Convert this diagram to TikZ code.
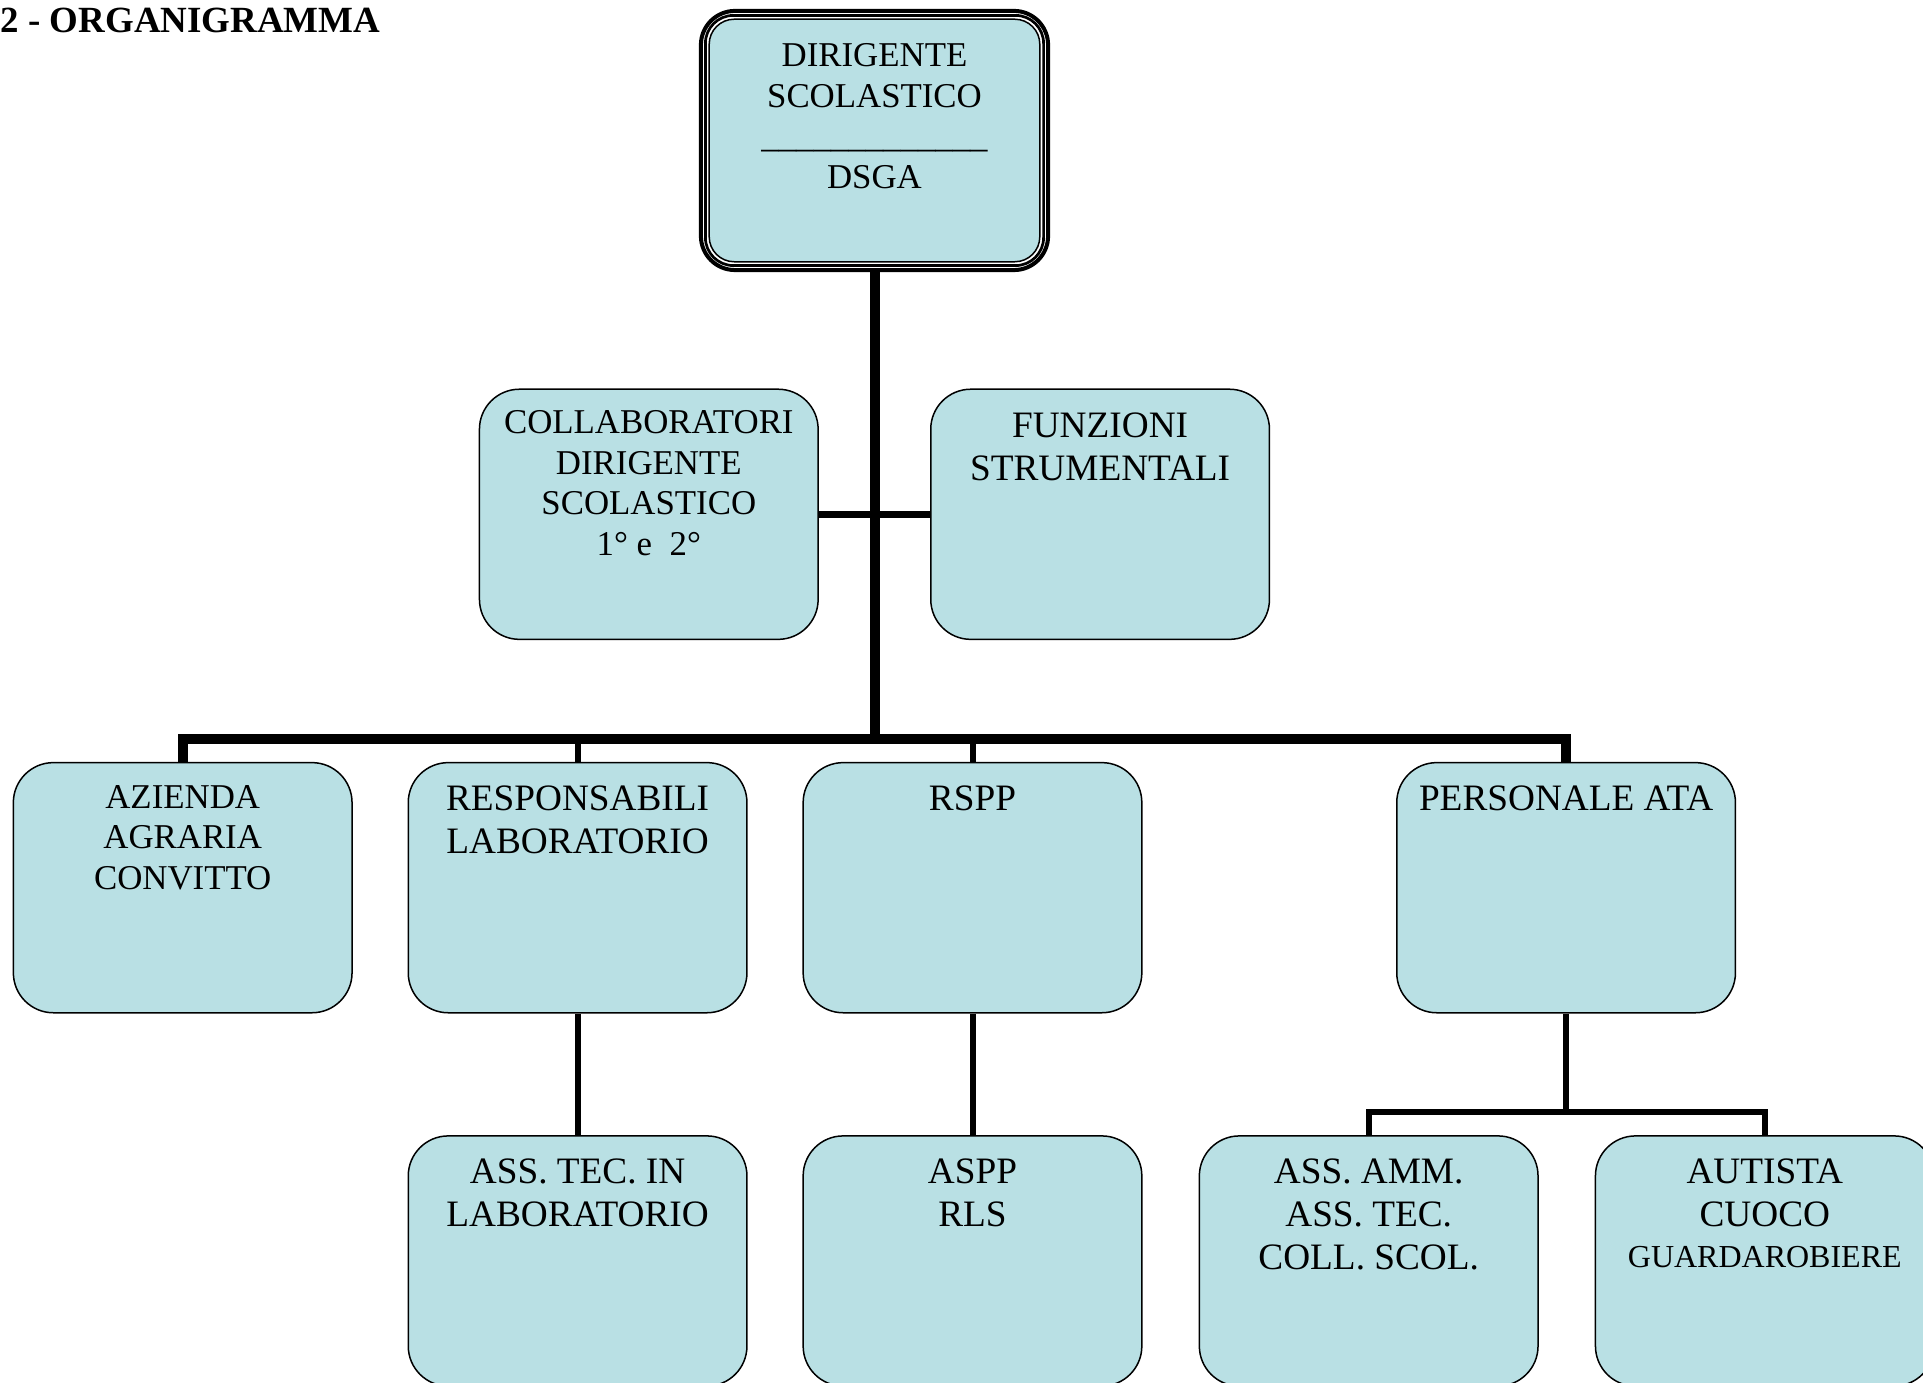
\documentclass[tikz,border=0pt]{standalone}
\usepackage{fontspec}
\setmainfont{Liberation Serif}
\usetikzlibrary{positioning}
\definecolor{boxblue}{RGB}{185,224,228}
\newcommand{\bigtxt}{\fontsize{10.6}{12.2}\selectfont}
\newcommand{\smalltxt}{\fontsize{9.9}{11.5}\selectfont}
\newcommand{\tinytxt}{\fontsize{9.1}{11.5}\selectfont}

\begin{document}
\begin{tikzpicture}[x=0.01cm,y=-0.01cm,
  unit/.style={rectangle,rounded corners=0.4cm,draw=black,line width=0.015cm,
    fill=boxblue,minimum width=3.385cm,minimum height=2.5cm,inner sep=0pt},
  bigtext/.style={align=center,inner sep=0pt,font=\bigtxt},
  smalltext/.style={align=center,inner sep=0pt,font=\smalltxt},
  trunk/.style={line width=0.1cm},
  branch/.style={line width=0.06cm},
  link/.style={line width=0.065cm}]
\clip (0,0) rectangle (1923,1383);
% title
\node[anchor=base west,inner sep=0pt,font=\fontsize{10.5}{12}\selectfont\bfseries] (title) at (0,33) {2 - ORGANIGRAMMA};
% top box, three borders
\node[rectangle,rounded corners=0.34cm,draw=black,line width=0.04cm,fill=white,
  minimum width=3.47cm,minimum height=2.59cm,inner sep=0pt] (ds) at (874.5,140.5) {};
\draw[rounded corners=0.28cm,line width=0.027cm] ([shift={(6.5,6.5)}]ds.north west) rectangle ([shift={(-6.5,-6.5)}]ds.south east);
\filldraw[fill=boxblue,rounded corners=0.25cm,line width=0.015cm] ([shift={(10.3,10.3)}]ds.north west) rectangle ([shift={(-10.3,-10.3)}]ds.south east);
\node[smalltext,below=0.34cm of ds.north] (ds-t) {DIRIGENTE\\SCOLASTICO\\\_\_\_\_\_\_\_\_\_\_\_\_\_\\DSGA};
% boxes
\node[unit] (coll) at (648.8,514.3) {};
\node[unit] (funz) at (1100.1,514.3) {};
\node[unit] (az) at (182.7,887.7) {};
\node[unit] (resp) at (577.6,887.7) {};
\node[unit] (rspp) at (972.5,887.7) {};
\node[unit] (pers) at (1566.1,887.7) {};
\node[unit] (asstec) at (577.6,1261) {};
\node[unit] (aspp) at (972.5,1261) {};
\node[unit] (assamm) at (1368.7,1261) {};
\node[unit] (autista) at (1764.8,1261) {};
% texts
\node[smalltext,below=0.216cm of coll.north] (coll-t) {COLLABORATORI\\DIRIGENTE\\SCOLASTICO\\1° e\ \ 2°};
\node[bigtext,below=0.233cm of funz.north] (funz-t) {FUNZIONI\\STRUMENTALI};
\node[smalltext,below=0.228cm of az.north] (az-t) {AZIENDA\\AGRARIA\\CONVITTO};
\node[bigtext,below=0.233cm of resp.north] (resp-t) {RESPONSABILI\\LABORATORIO};
\node[bigtext,below=0.233cm of rspp.north] (rspp-t) {RSPP};
\node[bigtext,below=0.233cm of pers.north] (pers-t) {PERSONALE ATA};
\node[bigtext,below=0.233cm of asstec.north] (asstec-t) {ASS. TEC. IN\\LABORATORIO};
\node[bigtext,below=0.233cm of aspp.north] (aspp-t) {ASPP\\RLS};
\node[bigtext,below=0.233cm of assamm.north] (assamm-t) {ASS. AMM.\\ASS. TEC.\\COLL. SCOL.};
\node[bigtext,below=0.233cm of autista.north] (autista-t) {AUTISTA\\CUOCO\\[-0.7pt]{\tinytxt GUARDAROBIERE}};
% connectors
\coordinate (bar) at (874.5,739);
\coordinate (subbar) at (1566.1,1112.4);
\draw[trunk] (ds.south) -- (ds.south |- bar);
\draw[trunk] (az.north) -- (az.north |- bar) -- (pers.north |- bar) -- (pers.north);
\draw[branch] (resp.north |- bar) -- (resp.north);
\draw[branch] (rspp.north |- bar) -- (rspp.north);
\draw[link] (coll.east) -- (funz.west);
\draw[branch] (resp.south) -- (asstec.north);
\draw[branch] (rspp.south) -- (aspp.north);
\draw[branch] (pers.south) -- (pers.south |- subbar);
\draw[branch] (assamm.north) -- (assamm.north |- subbar) -- (autista.north |- subbar) -- (autista.north);
\end{tikzpicture}
\end{document}
